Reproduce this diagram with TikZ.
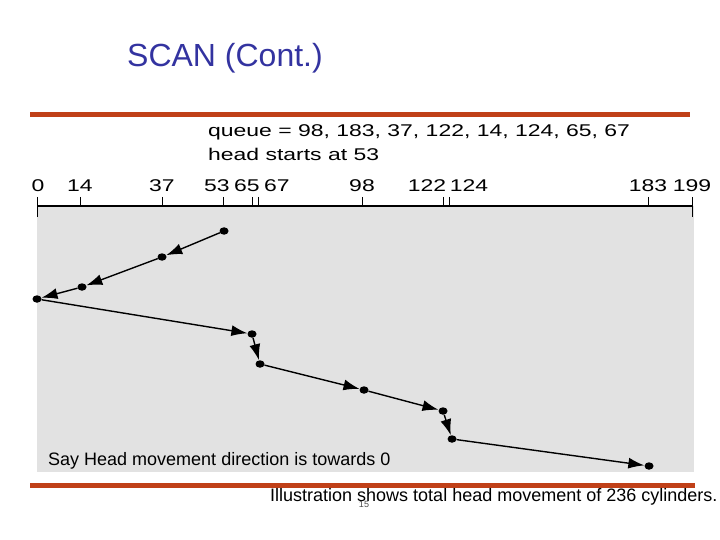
\documentclass[tikz,border=0pt]{standalone}
\usepackage{fontspec}
\usepackage{graphicx}
\setmainfont{Liberation Sans}
\usetikzlibrary{arrows.meta,shapes.geometric}
\definecolor{rust}{RGB}{192,64,24}
\definecolor{titleblue}{RGB}{51,51,160}
\definecolor{panel}{RGB}{226,226,226}
\newcommand{\wide}[1]{\scalebox{1.35}[1]{#1}}
\tikzset{
  dot/.style={ellipse, fill=black, inner sep=0pt, minimum width=9pt, minimum height=7.5pt},
  arr/.style={line width=1.4pt, -{Latex[length=16pt,width=11pt]}},
  lab/.style={font=\fontsize{17}{17}\selectfont, inner sep=0pt},
  tick/.style={line width=1pt},
  bar/.style={fill=rust, draw=none}
}
\begin{document}
\begin{tikzpicture}[x=1pt,y=-1pt]
\useasboundingbox (0,0) rectangle (720,540);
% title
\node[text=titleblue, font=\fontsize{32}{32}\selectfont, inner sep=0pt] (title) at (225,58) {SCAN (Cont.)};
% bars
\fill[bar] (30,112) rectangle (690,117);
\fill[bar] (30,483) rectangle (695,488);
% panel
\fill[panel] (37,206) rectangle (694,472);
% queue text
\node[lab, anchor=west] (queue) at (208,132) {\wide{queue = 98, 183, 37, 122, 14, 124, 65, 67}};
\node[lab, anchor=west] (head) at (208,154) {\wide{head starts at 53}};
% axis
\draw[line width=1.2pt] (37,206) -- (692,206);
\draw[tick] (37,197) -- (37,217);
\draw[tick] (692,197) -- (692,217);
\foreach \x in {80,162,223,252,258,362,443,449,648}
  \draw[tick] (\x,197) -- (\x,206);
% axis labels
\node[lab] (l0) at (38,186) {\wide{0}};
\node[lab] (l14) at (80,186) {\wide{14}};
\node[lab] (l37) at (162,186) {\wide{37}};
\node[lab] (l53) at (217,186) {\wide{53}};
\node[lab] (l65) at (247,186) {\wide{65}};
\node[lab] (l67) at (277,186) {\wide{67}};
\node[lab] (l98) at (362,186) {\wide{98}};
\node[lab] (l122) at (427,186) {\wide{122}};
\node[lab] (l124) at (469,186) {\wide{124}};
\node[lab] (l183) at (648,186) {\wide{183}};
\node[lab] (l199) at (692,186) {\wide{199}};
% dots
\node[dot] (p53) at (224,231) {};
\node[dot] (p37) at (162,257) {};
\node[dot] (p14) at (82,287) {};
\node[dot] (p0) at (37,299) {};
\node[dot] (p65) at (252,334) {};
\node[dot] (p67) at (260,364) {};
\node[dot] (p98) at (364,390) {};
\node[dot] (p122) at (443,411) {};
\node[dot] (p124) at (452,439) {};
\node[dot] (p183) at (649,466) {};
% path
\draw[arr] (p53) -- (p37);
\draw[arr] (p37) -- (p14);
\draw[arr] (p14) -- (p0);
\draw[arr] (p0) -- (p65);
\draw[arr] (p65) -- (p67);
\draw[arr] (p67) -- (p98);
\draw[arr] (p98) -- (p122);
\draw[arr] (p122) -- (p124);
\draw[arr] (p124) -- (p183);
% texts
\node[font=\fontsize{18}{18}\selectfont, anchor=west, inner sep=0pt] (say) at (48,461) {Say Head movement direction is towards 0};
\node[font=\fontsize{18}{18}\selectfont, anchor=west, inner sep=0pt] (ill) at (270,497) {Illustration shows total head movement of 236 cylinders.};
\node[font=\fontsize{9}{9}\selectfont, text=black!70, inner sep=0pt] (pg) at (364,504) {15};
\end{tikzpicture}
\end{document}
